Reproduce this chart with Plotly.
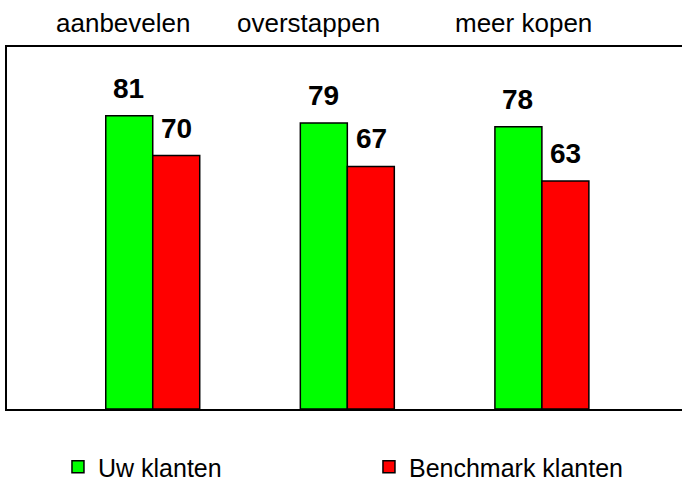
import plotly.graph_objects as go

categories = ["aanbevelen", "overstappen", "meer kopen"]
uw_klanten = [81, 79, 78]
benchmark_klanten = [70, 67, 63]
series_names = ["Uw klanten", "Benchmark klanten"]

FONT = "Liberation Sans, Arial, sans-serif"
GREEN = "#00FF00"
RED = "#FF0000"

fig = go.Figure()
fig.add_trace(go.Bar(x=categories, y=uw_klanten, name=series_names[0],
                     marker=dict(color=GREEN, line=dict(color="black", width=1.5)),
                     legend="legend"))
fig.add_trace(go.Bar(x=categories, y=benchmark_klanten, name=series_names[1],
                     marker=dict(color=RED, line=dict(color="black", width=1.5)),
                     legend="legend2"))

annotations = []
# value labels above bars
for i, cat in enumerate(categories):
    for vals, shift in ((uw_klanten, -24), (benchmark_klanten, 24)):
        annotations.append(dict(x=cat, y=vals[i], xref="x", yref="y",
                                text=f"<b>{vals[i]}</b>", showarrow=False,
                                xanchor="center", yanchor="bottom",
                                xshift=shift, yshift=10,
                                font=dict(family=FONT, size=28, color="black")))
# category labels at top
top_shifts = [-30, -39, -18]
for cat, s in zip(categories, top_shifts):
    annotations.append(dict(x=cat, y=1, xref="x", yref="paper",
                            text=cat, showarrow=False, xanchor="center",
                            yanchor="bottom", xshift=s, yshift=7,
                            font=dict(family=FONT, size=26, color="black")))

fig.update_layout(
    width=682, height=480,
    margin=dict(l=7, r=0, t=47, b=71),
    paper_bgcolor="white", plot_bgcolor="white",
    barmode="group", bargap=0.517, bargroupgap=0,
    font=dict(family=FONT, color="black"),
    showlegend=True,
    legend=dict(orientation="h", xref="container", yref="container",
                x=0.085, y=0.027, xanchor="left", yanchor="middle",
                font=dict(family=FONT, size=25, color="black"),
                bgcolor="rgba(0,0,0,0)"),
    legend2=dict(orientation="h", xref="container", yref="container",
                 x=0.541, y=0.027, xanchor="left", yanchor="middle",
                 font=dict(family=FONT, size=25, color="black"),
                 bgcolor="rgba(0,0,0,0)"),
    annotations=annotations,
)
fig.update_xaxes(range=[-0.749, 2.72], showline=True, linecolor="black",
                 linewidth=1.5, mirror=True, showticklabels=False,
                 ticks="", showgrid=False, zeroline=False)
fig.update_yaxes(range=[0, 100], showline=True, linecolor="black",
                 linewidth=1.5, mirror=False, showticklabels=False,
                 ticks="", showgrid=False, zeroline=False)

fig.write_html("out.html")
